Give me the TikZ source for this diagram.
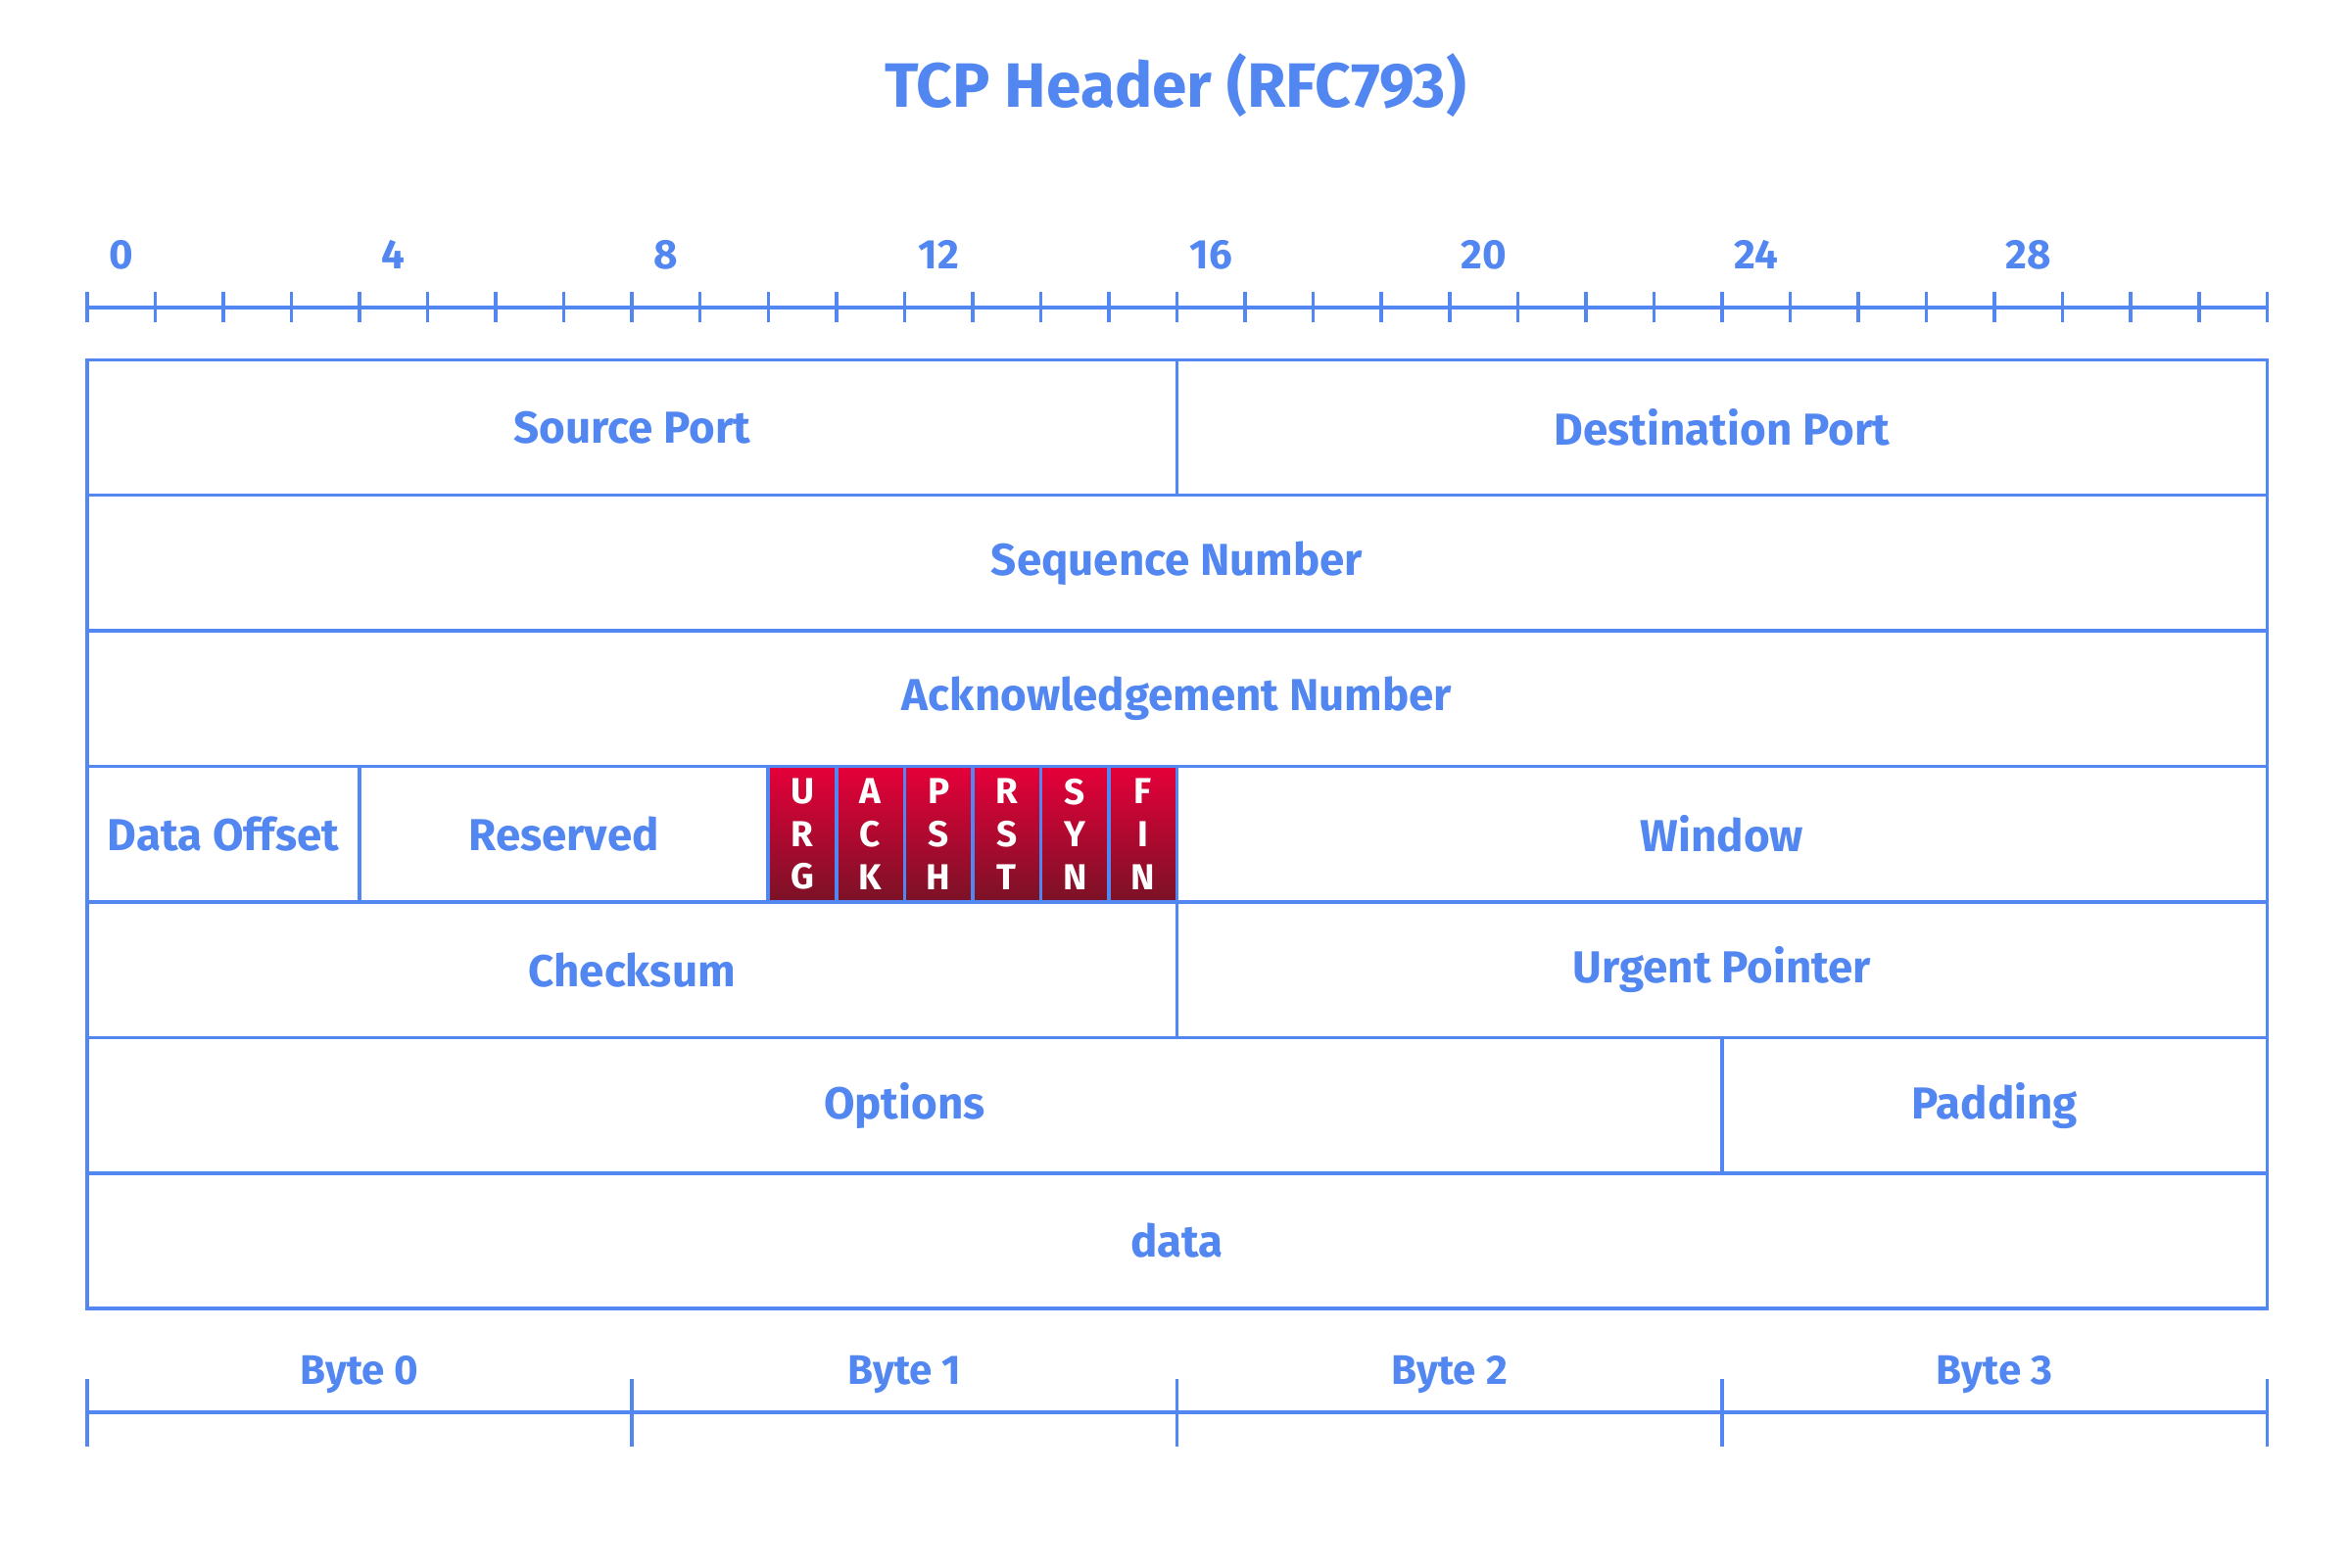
\documentclass[tikz,border=0pt]{standalone}
\usepackage{fontspec}
\setmainfont{Fira Sans}
\usetikzlibrary{backgrounds}
\definecolor{tcpblue}{HTML}{5286F0}
\definecolor{flagtop}{HTML}{E6003A}
\definecolor{flagbot}{HTML}{7A1226}
\pgfdeclarelayer{edgelayer}
\pgfdeclarelayer{nodelayer}
\pgfsetlayers{edgelayer,main,nodelayer}
\tikzstyle{none}=[inner sep=0pt]
\tikzstyle{field}=[draw=tcpblue,line width=1pt,inner sep=0pt,outer sep=0pt,minimum height=1.3842cm,text=tcpblue,font=\bfseries\fontsize{13}{15.6}\selectfont]
\tikzstyle{flag}=[field,minimum width=0.6955cm,top color=flagtop,bottom color=flagbot,text=white,align=center,font=\bfseries\fontsize{10.5}{12.4}\selectfont]
\tikzstyle{bitnum}=[inner sep=0pt,text=tcpblue,font=\bfseries\fontsize{12}{14}\selectfont]
\tikzstyle{ruler}=[draw=tcpblue,line width=1pt]

\begin{document}
\begin{tikzpicture}
	\useasboundingbox (0,0) rectangle (24,-16);
	% title
	\node [style=none,text=tcpblue,font=\bfseries\fontsize{18.2}{21}\selectfont] (title) at (12.0,-0.872) {TCP Header (RFC793)};
	% bit ruler
	\draw [style=ruler] (0.888,-3.138) -- (23.143,-3.138);
	\foreach \b in {0,...,32}
		\draw [style=ruler] (0.888+0.69547*\b,-2.985) -- (0.888+0.69547*\b,-3.291);
	\foreach \b in {0,4,...,28}
		\node [style=bitnum] (bit\b) at (1.2357+0.69547*\b,-2.602) {\b};
	% header rows
	\begin{pgfonlayer}{nodelayer}
		\node [style=field,minimum width=11.1275cm] (srcport) at (6.4518,-4.3651) {Source Port};
		\node [style=field,minimum width=11.1275cm] (dstport) at (17.5794,-4.3651) {Destination Port};
		\node [style=field,minimum width=22.255cm] (seqnum) at (12.0155,-5.7493) {Sequence Number};
		\node [style=field,minimum width=22.255cm] (acknum) at (12.0155,-7.1335) {Acknowledgement Number};
		\node [style=field,minimum width=2.7819cm] (offset) at (2.279,-8.5177) {Data Offset};
		\node [style=field,minimum width=4.1728cm] (reserved) at (5.756,-8.5177) {Reserved};
		\node [style=flag] (urg) at (8.1904,-8.5177) {U\\R\\G};
		\node [style=flag] (ack) at (8.8859,-8.5177) {A\\C\\K};
		\node [style=flag] (psh) at (9.5814,-8.5177) {P\\S\\H};
		\node [style=flag] (rst) at (10.2768,-8.5177) {R\\S\\T};
		\node [style=flag] (syn) at (10.9723,-8.5177) {S\\Y\\N};
		\node [style=flag] (fin) at (11.6678,-8.5177) {F\\I\\N};
		\node [style=field,minimum width=11.1275cm] (window) at (17.5794,-8.5177) {Window};
		\node [style=field,minimum width=11.1275cm] (checksum) at (6.4518,-9.9019) {Checksum};
		\node [style=field,minimum width=11.1275cm] (urgptr) at (17.5794,-9.9019) {Urgent Pointer};
		\node [style=field,minimum width=16.691cm] (options) at (9.2336,-11.2861) {Options};
		\node [style=field,minimum width=5.5638cm] (padding) at (20.361,-11.2861) {Padding};
		\node [style=field,minimum width=22.255cm] (data) at (12.0155,-12.6703) {data};
	\end{pgfonlayer}
	% byte ruler
	\draw [style=ruler] (0.888,-14.418) -- (23.143,-14.418);
	\foreach \b in {0,1,2,3,4}
		\draw [style=ruler] (0.888+5.5638*\b,-14.08) -- (0.888+5.5638*\b,-14.77);
	\foreach \b in {0,1,2,3}
		\node [style=bitnum] (byte\b) at (3.6699+5.5638*\b,-14.035) {Byte \b};
\end{tikzpicture}
\end{document}
